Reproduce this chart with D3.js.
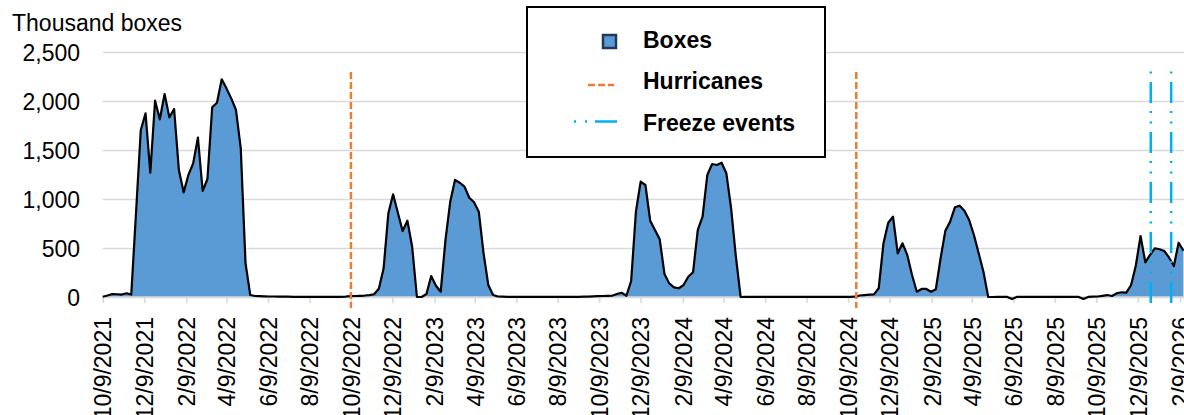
<!DOCTYPE html>
<html lang="en">
    <head>
        <meta charset="utf-8">
        <title>Boxes shipped, with hurricanes and freeze events</title>
        <script src="https://d3js.org/d3.v7.min.js"></script>
        <style type="text/css">
          body {
            margin: 0;
            background: #ffffff;
          }
          svg {
            width: 1184px;
            height: 415px;
            display: block;
          }
          text {
            font-family: Arial, "Liberation Sans", Helvetica, sans-serif;
            fill: #000000;
          }
          .tick text {
            font-size: 23px;
          }
          .unit {
            font-size: 23px;
          }
          .legend-text {
            font-size: 23px;
            font-weight: bold;
          }
        </style>
    </head>
    <body>
        <svg></svg>

        <script type="text/javascript">

        // weekly series, first week = 10/9/2021 (thousand boxes)
        const startDate = "2021-10-09";
        const boxes = [
            3, 15, 30, 28, 25, 38, 25, 860, 1704, 1874,
            1268, 2003, 1813, 2071, 1833, 1918, 1296, 1068, 1245, 1364,
            1626, 1082, 1204, 1936, 1983, 2221, 2129, 2027, 1908, 1517,
            344, 20, 10, 8, 6, 5, 5, 4, 3, 3,
            2, 2, 2, 2, 1, 1, 1, 1, 1, 1,
            2, 4, 8, 10, 12, 15, 20, 28, 85, 290,
            854, 1048, 860, 673, 779, 513, 0, 0, 30, 214,
            115, 54, 582, 973, 1194, 1166, 1126, 1013, 966, 870,
            446, 122, 20, 5, 3, 2, 2, 1, 1, 1,
            1, 1, 1, 1, 1, 1, 1, 1, 1, 2,
            2, 3, 4, 6, 8, 10, 12, 13, 30, 44,
            13, 163, 870, 1177, 1143, 779, 684, 589, 235, 139,
            99, 89, 122, 207, 252, 684, 820, 1245, 1357, 1347,
            1370, 1262, 905, 411, 0, 2, 2, 2, 1, 1,
            1, 1, 1, 1, 1, 1, 1, 1, 1, 1,
            1, 1, 1, 1, 1, 1, 2, 2, 3, 15,
            20, 24, 27, 89, 548, 758, 820, 446, 548, 429,
            224, 54, 82, 82, 54, 79, 395, 677, 769, 915,
            932, 881, 786, 633, 446, 258, 0, 0, 1, 1,
            1, -20, 1, 1, 1, 1, 1, 1, 1, 1,
            1, 1, 1, 1, 1, 1, -20, 1, 3, 5,
            12, 20, 10, 38, 48, 44, 120, 320, 622, 354,
            429, 497, 487, 469, 401, 316, 554, 472
        ];

        // event markers
        const hurricanes = ["2022-10-09", "2024-10-21"];
        const freezes = ["2025-12-28", "2026-01-27"];

        // axis ticks
        const tickLabels = ["10/9/2021", "12/9/2021", "2/9/2022", "4/9/2022", "6/9/2022", "8/9/2022",
                            "10/9/2022", "12/9/2022", "2/9/2023", "4/9/2023", "6/9/2023", "8/9/2023",
                            "10/9/2023", "12/9/2023", "2/9/2024", "4/9/2024", "6/9/2024", "8/9/2024",
                            "10/9/2024", "12/9/2024", "2/9/2025", "4/9/2025", "6/9/2025", "8/9/2025",
                            "10/9/2025", "12/9/2025", "2/9/2026"];
        const yTicks = [0, 500, 1000, 1500, 2000, 2500];

        const legendItems = ["Boxes", "Hurricanes", "Freeze events"];

        const parseIso = d3.timeParse("%Y-%m-%d");
        const parseLabel = d3.timeParse("%m/%d/%Y");
        const fmtLabel = d3.timeFormat("%-m/%-d/%Y");

        const start = parseIso(startDate);
        const dataset = boxes.map((v, i) => ({date: d3.timeDay.offset(start, 7 * i), value: v}));
        const tickDates = tickLabels.map(parseLabel);

        // layout
        const W = 1184;
        const left = 102.7;
        const x = d3.scaleTime()
                    .domain([tickDates[0], tickDates[tickDates.length - 1]])
                    .range([left, 1180]);
        const y = d3.scaleLinear()
                    .domain([0, 2500])
                    .range([297, 52]);

        const gridColor = "#d9d9d9";
        const svg = d3.select("svg");

        // gridlines + y labels
        const yAxis = svg.append("g")
            .attr("transform", "translate(" + left + ",0)")
            .call(d3.axisLeft(y)
                .tickValues(yTicks)
                .tickFormat(d3.format(","))
                .tickSize(-(W - left))
                .tickPadding(22.7));
        yAxis.select(".domain").remove();
        yAxis.selectAll(".tick line")
            .attr("stroke", gridColor)
            .attr("stroke-width", 1.6);
        yAxis.selectAll(".tick text")
            .attr("dy", "0.36em");

        // area fill, then outline on top (no outline along the baseline)
        const area = d3.area()
            .x(d => x(d.date))
            .y0(y(0))
            .y1(d => y(d.value));
        const line = d3.line()
            .x(d => x(d.date))
            .y(d => y(d.value));

        svg.append("path")
            .datum(dataset)
            .attr("d", area)
            .attr("fill", "#5b9bd5");

        // x axis: ticks + rotated labels
        const xAxis = svg.append("g")
            .attr("transform", "translate(0," + y(0) + ")")
            .call(d3.axisBottom(x)
                .tickValues(tickDates)
                .tickFormat(fmtLabel)
                .tickSize(6)
                .tickSizeOuter(0));
        xAxis.select(".domain").remove();
        xAxis.selectAll(".tick line")
            .attr("stroke", gridColor)
            .attr("stroke-width", 1.6);
        xAxis.selectAll(".tick text")
            .attr("transform", "rotate(-90)")
            .attr("text-anchor", "end")
            .attr("x", -20)
            .attr("y", 0)
            .attr("dy", "0.36em");

        svg.append("line")
            .attr("x1", left).attr("x2", W)
            .attr("y1", y(0)).attr("y2", y(0))
            .attr("stroke", gridColor)
            .attr("stroke-width", 1.6);

        svg.append("path")
            .datum(dataset)
            .attr("d", line)
            .attr("fill", "none")
            .attr("stroke", "#000000")
            .attr("stroke-width", 2.2)
            .attr("stroke-linejoin", "round");

        // hurricane lines
        svg.selectAll(".hurricane")
            .data(hurricanes)
            .enter()
            .append("line")
            .attr("class", "hurricane")
            .attr("x1", d => x(parseIso(d)))
            .attr("x2", d => x(parseIso(d)))
            .attr("y1", 72)
            .attr("y2", 308)
            .attr("stroke", "#ed7d31")
            .attr("stroke-width", 2.5)
            .attr("stroke-dasharray", "7 3");

        // freeze lines (long dash, dot, dot)
        svg.selectAll(".freeze")
            .data(freezes)
            .enter()
            .append("line")
            .attr("class", "freeze")
            .attr("x1", d => x(parseIso(d)))
            .attr("x2", d => x(parseIso(d)))
            .attr("y1", 71)
            .attr("y2", 308)
            .attr("stroke", "#00b0f0")
            .attr("stroke-width", 2.5)
            .attr("stroke-dasharray", "21 8 2 8.5 2 8.5")
            .attr("stroke-dashoffset", 39);

        // unit label
        svg.append("text")
            .attr("class", "unit")
            .attr("x", 12)
            .attr("y", 31)
            .text("Thousand boxes");

        // legend
        const legend = svg.append("g");
        legend.append("rect")
            .attr("x", 527)
            .attr("y", 7)
            .attr("width", 298)
            .attr("height", 150)
            .attr("fill", "#ffffff")
            .attr("stroke", "#000000")
            .attr("stroke-width", 2);

        legend.append("rect")
            .attr("x", 603)
            .attr("y", 35)
            .attr("width", 13)
            .attr("height", 13)
            .attr("fill", "#5b9bd5")
            .attr("stroke", "#203a5e")
            .attr("stroke-width", 2.5);

        legend.append("line")
            .attr("x1", 588).attr("x2", 614)
            .attr("y1", 85).attr("y2", 85)
            .attr("stroke", "#ed7d31")
            .attr("stroke-width", 2.5)
            .attr("stroke-dasharray", "7 3");

        legend.append("line")
            .attr("x1", 574).attr("x2", 617)
            .attr("y1", 121.5).attr("y2", 121.5)
            .attr("stroke", "#00b0f0")
            .attr("stroke-width", 2.5)
            .attr("stroke-dasharray", "2 9 2 8 22");

        legend.selectAll(".legend-text")
            .data(legendItems)
            .enter()
            .append("text")
            .attr("class", "legend-text")
            .attr("x", 643)
            .attr("y", (d, i) => 47.5 + i * 41.7)
            .text(d => d);

        </script>
    </body>
</html>
